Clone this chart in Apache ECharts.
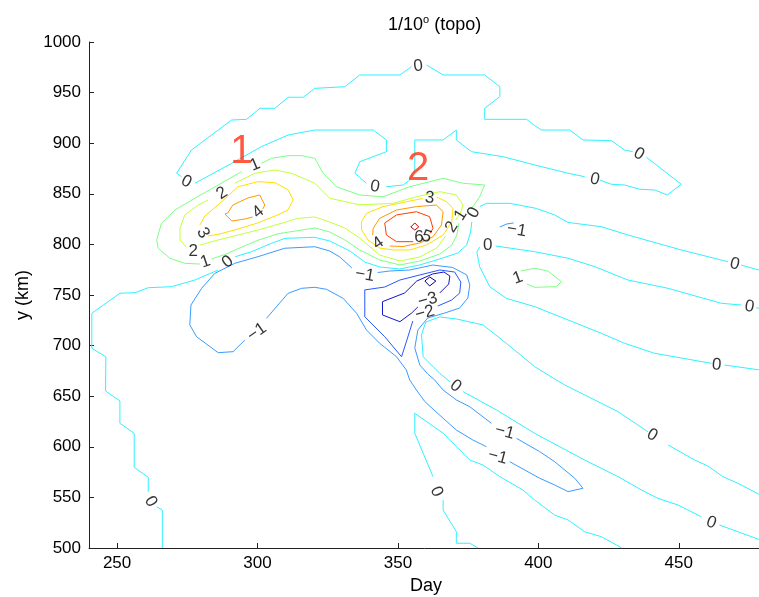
<!DOCTYPE html>
<html>
<head>
<meta charset="utf-8">
<script src="https://cdn.jsdelivr.net/npm/echarts@6/dist/echarts.min.js"></script>
<style>
html,body{margin:0;padding:0;background:#fff;}
#chart{width:759px;height:597px;}
</style>
</head>
<body>
<div id="chart"></div>
<script>
// Contour polylines in (day, km); each level holds several pieces (gaps are where labels sit)
const linesM4 = [
  [[359.6,763.8],[361.3,767.8],[363.5,763.8],[361.3,758.9],[359.6,763.8]]
];
const linesM3 = [
  [[364.9,752.0],[368.1,760.9],[368.5,768.8],[366.4,772.7],[362.4,770.8],[356.7,763.8],[352.4,752.0],[344.5,743.4],[344.5,730.3],[350.7,723.6],[354.9,732.2],[357.1,738.2]]
];
const linesM2 = [
  [[355.3,724.3],[353.2,705.5],[351.3,689.0],[345.3,708.8],[338.2,728.5],[338.2,755.0],[345.3,757.9],[350.7,764.8],[357.8,769.8],[364.9,774.7],[370.2,772.7],[372.4,762.8],[372.0,752.0],[369.2,745.1],[364.2,739.1]]
];
const linesM1 = [
  [[303.2,727.0],[310.9,751.7],[315.7,756.6],[320.4,757.6],[324.6,755.6],[330.5,746.7],[335.3,731.9],[338.8,715.4],[343.5,702.3],[349.5,689.0],[353.0,675.9],[354.2,666.0],[356.6,656.1],[359.6,644.6],[366.1,628.2],[370.8,616.6],[376.7,606.7],[381.5,600.1]],
  [[389.8,585.3],[400.5,568.9],[405.8,562.3],[410.6,555.7],[415.9,559.0],[413.0,568.9],[405.8,585.3],[400.5,595.2],[392.2,608.4]],
  [[383.3,623.2],[375.6,639.6],[370.8,646.3],[366.1,656.1],[363.1,666.0],[360.6,672.0],[357.8,680.8],[356.0,697.6],[357.1,715.4],[360.6,727.3],[366.7,732.2],[372.0,737.2],[374.9,747.0],[375.6,759.9],[374.5,769.8],[369.5,777.2],[362.4,779.6],[354.2,774.7],[347.1,773.7],[342.8,772.2]],
  [[333.6,776.7],[329.3,787.6],[325.7,793.5],[320.4,797.7],[309.7,796.2],[300.2,787.9],[291.9,781.3],[284.8,771.4],[280.1,756.6],[276.3,740.1],[275.9,720.4],[278.3,708.8],[286.0,693.0],[291.3,694.0],[295.5,705.5]],
  [[386.3,817.2],[388.8,820.2],[391.2,821.2]]
];
const lines0 = [
  [[266.1,500],[266.1,537.5],[264.1,540.8]],
  [[261.1,555.6],[261.1,569.9],[256.1,579.7],[256.1,613.3],[251.0,623.2],[251.0,645.3],[245.9,655.1],[246.0,689.0],[241.0,697.3],[241.0,731.9],[251.0,751.7],[256.4,752.3],[261.1,757.2],[269.4,758.2],[277.7,764.8],[286.0,774.7]],
  [[292.0,787.8],[297.9,792.8],[305.0,801.1],[309.8,806.0],[320.4,807.0],[325.7,803.4],[332.9,793.5],[338.2,782.6],[343.5,777.7],[350.7,775.7],[357.8,779.7],[364.9,785.6],[371.3,791.5],[374.5,799.4],[375.9,812.3],[376.3,822.1]],
  [[379.1,837.3],[381.5,840.6],[389.8,840.6],[399.4,835.5],[405.8,829.1],[410.6,821.7],[422.4,817.5],[431.9,809.3],[450.9,794.5],[467.5,782.9]],
  [[472.2,779.6],[480,773.5]],
  [[433.6,891.6],[430.7,893.3],[426.0,902.5],[415.9,903.2],[411.2,913.0],[401.1,913.0],[398.7,917.5],[395.8,923.6],[380.9,923.6],[380.9,934.5],[386.3,946.0],[386.3,955.8],[380.9,967.4],[366.1,967.4],[360.2,977.3]],
  [[354.8,975.6],[350.7,967.4],[336.4,967.4],[331.1,955.8],[320.4,954.2],[316.3,945.4],[310.9,945.4],[306.2,934.5],[300.9,934.5],[296.1,923.6],[290.8,922.9],[276.5,893.3],[271.2,870.3],[273.0,866.9]],
  [[277.7,860.4],[290.8,880.1],[301.4,896.6],[310.9,908.1],[320.4,913.0],[341.2,913.0],[345.9,903.2],[345.9,891.6],[336.4,881.7],[334.7,870.3],[338.8,860.4]],
  [[345.9,857.0],[351.9,858.7],[354.2,863.6],[356.0,873.5],[356.0,903.2],[366.1,903.2],[370.8,913.0],[370.8,903.2],[376.2,891.6],[387.4,886.7],[398.7,878.5],[410.6,870.3],[416.5,866.9]],
  [[421.9,863.6],[426.0,859.4],[430.7,858.7],[436.1,854.5],[441.4,853.8],[445.9,848.8],[450.9,859.4],[438.5,886.1]],
  [[480,736.5],[477.6,737.3]],
  [[472.3,740.1],[465.2,741.8],[446.2,756.6],[431.9,764.8],[420.1,778.0],[410.6,786.3],[398.7,792.8],[389.8,796.4],[384.8,798.4]],
  [[379.1,797.4],[378.1,792.5],[379.1,778.0],[382.7,758.2],[388.6,746.7],[398.7,738.5],[410.6,725.3],[422.4,712.2],[430.7,702.3],[441.4,692.4],[461.6,682.5]],
  [[466.3,680.8],[480,675.5]],
  [[480,507],[464.5,522.7]],
  [[458.0,530.9],[449.7,542.5],[442.6,549.1],[436.7,557.3],[428.4,570.5],[416.5,586.9],[398.7,613.3],[385.1,636.4],[373.2,654.5]],
  [[368.5,664.3],[364.9,672.6],[359.0,689.0],[358.4,710.5],[359.9,723.3],[364.9,728.3],[370.9,726.3],[380.3,720.4],[388.6,702.3],[398.7,679.2],[405.8,667.0],[409.4,661.1],[428.4,634.7],[439.0,614.9]],
  [[446.2,601.8],[455.6,587.0],[460.4,581.0],[465.7,570.5],[471.1,563.9],[480,551]],
  [[378.5,500],[375.6,504.7],[370.8,504.7],[370.8,516.1],[366.1,537.5],[366.1,547.4]],
  [[362.5,570.5],[359.0,593.6],[356.0,613.4],[356.0,633.1],[366.1,613.4],[375.6,586.9],[380.3,582.0],[386.3,570.5],[394.5,557.3],[398.7,547.4],[405.8,532.6],[410.6,527.7],[416.5,516.1],[422.4,511.2],[427.8,503.0],[429.7,500]]
];
const lines1 = [
  [[301.4,880.1],[305.0,885.1],[310.9,887.7],[315.7,887.7],[320.4,885.1],[323.4,870.3],[328.1,857.0],[336.4,848.8],[344.7,847.1],[354.2,857.0],[366.1,865.3],[373.2,860.4],[380.9,858.7],[379.1,847.1],[376.7,837.3],[374.5,834.0]],
  [[371.7,821.2],[371.0,809.3],[369.2,799.4],[364.9,790.5],[357.8,783.6],[350.7,779.7],[343.5,784.6],[336.4,794.5],[331.1,804.4],[325.7,812.3],[320.4,816.2],[307.4,810.6],[300.2,804.1],[293.1,795.8],[288.3,789.9],[283.6,785.6]],
  [[279.5,780.6],[274.1,781.3],[268.8,786.3],[264.6,796.2],[264.1,804.4],[265.8,820.9],[270.6,834.0],[277.7,845.6],[286.0,858.7],[294.3,871.8]],
  [[395.9,760.9],[398.7,757.6],[406.4,758.2],[408.2,763.2],[403.4,773.7],[398.7,776.4],[393.7,773.7]]
];
const lines2 = [
  [[291.9,860.5],[299.1,870.3],[306.2,873.5],[312.1,870.3],[320.4,860.4],[325.7,845.6],[336.4,839.1],[348.3,840.6],[356.6,847.1],[364.9,852.1],[370.8,848.8],[373.2,838.9],[372.4,832.0],[370.6,824.1]],
  [[367.0,808.3],[363.8,796.4],[357.8,787.6],[350.7,783.6],[343.5,789.5],[336.4,806.3],[331.1,816.2],[325.7,822.1],[320.4,827.1],[314.5,825.8],[308.6,820.9],[300.2,814.2],[293.1,809.3],[286.0,804.4],[279.5,799.4]],
  [[274.7,797.1],[272.4,804.4],[272.4,815.9],[274.1,829.1],[278.9,838.9],[282.4,843.9]]
];
const lines3 = [
  [[282.4,808.3],[286.6,810.3],[293.0,815.2],[300.1,821.2],[307.2,829.1],[310.8,834.0],[312.7,843.9],[310.9,853.8],[306.2,861.0],[300.2,862.0],[293.1,857.0],[285.9,838.9],[281.3,828.1],[279.5,819.2]],
  [[363.8,846.8],[367.3,842.2],[369.6,835.7],[369.2,822.4],[366.1,809.3],[360.2,799.4],[354.2,794.5],[348.3,794.5],[343.5,796.4],[339.3,804.4],[337.1,814.2],[337.0,822.4],[338.8,830.7],[344.7,837.3],[353.1,842.2],[358.9,845.4]]
];
const lines4 = [
  [[298.3,827.1],[295.5,825.1],[290.9,823.1],[288.4,830.0],[289.4,831.0],[291.2,838.9],[296.6,845.9],[300.8,848.8],[302.6,838.9],[301.9,835.0]],
  [[347.1,798.4],[351.8,797.9],[357.8,801.4],[362.5,807.6],[365.5,819.2],[366.1,832.3],[363.7,838.9],[356.6,837.3],[349.5,834.0],[343.5,825.8],[341.2,815.9],[341.0,809.3]]
];
const lines5 = [
  [[355.4,802.7],[349.5,802.7],[345.9,809.3],[345.3,821.2],[349.5,829.1],[356.6,832.3],[361.3,827.4],[362.5,815.9],[361.5,811.0]]
];
const lines6 = [
  [[354.6,817.2],[356.0,821.2],[357.4,817.2],[356.0,814.2],[354.6,817.2]]
];

// Inline contour labels: [day, km, text]
const contourLabels = [
  [262.0,545.8,'0'],[289.4,782.6,'0'],[274.7,862.0,'0'],[341.8,857.0,'0'],[357.2,976.3,'0'],
  [435.8,889.3,'0'],[420.1,864.3,'0'],[377.0,831.3,'0'],[382.0,799.4,'0'],[469.9,780.6,'0'],
  [475.2,738.4,'0'],[463.5,680.8,'0'],[440.5,611.7,'0'],[370.5,660.1,'0'],[461.6,525.0,'0'],
  [363.7,555.6,'0'],
  [299.1,878.5,'1'],[281.5,782.9,'1'],[372.4,829.1,'1'],[392.7,766.8,'1'],
  [287.4,850.5,'2'],[277.1,792.8,'2'],[369.2,817.2,'2'],
  [280.6,811.3,'3'],[361.3,845.9,'3'],
  [300.3,832.0,'4'],[343.0,801.1,'4'],
  [357.5,806.6,'6'],[360.2,807.6,'5'],
  [299.8,713.4,'\u22121'],[338.2,769.8,'\u22121'],[385.5,589.9,'\u22121'],[388.0,614.6,'\u22121'],[392.3,814.2,'\u22121'],
  [359.6,732.2,'\u22122'],[360.6,745.1,'\u22123']
];
// Text angle (degrees) of each inline label, same order as contourLabels
const labelTilt = [
  -59,37,-27,-10,6,
  -30,-12,62,0,-14,
  -10,-5,-30,-37,-20,
  -66,
  23,19,58,20,
  34,0,58,
  -60,-5,
  39,35,
  0,-20,
  35,-10,-15,-15,-10,
  15,15
];

// Eddy markers
const eddyMarks = [[294.3,891.0,'1'],[357.2,874.5,'2']];

const xTicks = [250,300,350,400,450];

const levelColor = {
  '-4':'#000096', '-3':'#1414d2', '-2':'#2858ff', '-1':'#3a9cff', '0':'#2ef2ff',
  '1':'#7dff84', '2':'#c4ff3a', '3':'#ffe000', '4':'#ff9a00', '5':'#ff3c00', '6':'#c80000'
};
const levelSets = [
  ['-4',linesM4],['-3',linesM3],['-2',linesM2],['-1',linesM1],['0',lines0],
  ['1',lines1],['2',lines2],['3',lines3],['4',lines4],['5',lines5],['6',lines6]
];

const FONT = '"Liberation Sans", Arial, Helvetica, sans-serif';
const series = [];
levelSets.forEach(([lev, pieces]) => {
  pieces.forEach(piece => {
    series.push({
      type: 'line', data: piece, symbol: 'none', smooth: false, silent: true,
      lineStyle: { color: levelColor[lev], width: 1 }, clip: true, z: 2
    });
  });
});
series.push({
  type: 'scatter', silent: true, symbolSize: 1, z: 5,
  itemStyle: { color: 'rgba(0,0,0,0)' },
  data: contourLabels.map((p, i) => ({
    value: [p[0], p[1]],
    label: { formatter: p[2], rotate: labelTilt[i] }
  })),
  label: { show: true, position: 'inside', color: '#000', fontSize: 17, fontFamily: FONT }
});
series.push({
  type: 'scatter', silent: true, symbolSize: 1, z: 5,
  itemStyle: { color: 'rgba(0,0,0,0)' },
  data: eddyMarks.map(p => ({ value: [p[0], p[1]], label: { formatter: p[2] } })),
  label: { show: true, position: 'inside', color: '#ff3010', fontSize: 40, fontFamily: FONT }
});

const chart = echarts.init(document.getElementById('chart'), null, { renderer: 'canvas' });
chart.setOption({
  animation: false,
  backgroundColor: '#ffffff',
  title: {
    text: '{a|1/10}{s|o}{a| (topo)}',
    left: 383, top: 9,
    textStyle: {
      fontWeight: 'normal',
      rich: {
        a: { fontSize: 18, fontFamily: FONT, fontWeight: 'normal', color: '#000', lineHeight: 22 },
        s: { fontSize: 11, fontFamily: FONT, fontWeight: 'normal', color: '#000', verticalAlign: 'top', lineHeight: 22, padding: [0, 0, 10, 0] }
      }
    }
  },
  grid: { left: 89, right: -4, top: 42, bottom: 49, containLabel: false, outerBoundsMode: 'none' },
  xAxis: {
    type: 'value', min: 240, max: 480,
    name: 'Day', nameLocation: 'middle', nameGap: 27,
    nameTextStyle: { fontSize: 18, fontFamily: FONT, color: '#000' },
    axisLine: { show: true, onZero: false, lineStyle: { color: '#222', width: 1 } },
    axisTick: { show: true, inside: true, length: 5, customValues: xTicks, lineStyle: { color: '#222' } },
    axisLabel: { customValues: xTicks, fontSize: 17, fontFamily: FONT, color: '#000', margin: 7 },
    splitLine: { show: false }
  },
  yAxis: {
    type: 'value', min: 500, max: 1000, interval: 50,
    name: 'y (km)', nameLocation: 'middle', nameGap: 55, nameRotate: 90,
    nameTextStyle: { fontSize: 18, fontFamily: FONT, color: '#000' },
    axisLine: { show: true, onZero: false, lineStyle: { color: '#222', width: 1 } },
    axisTick: { show: true, inside: true, length: 5, lineStyle: { color: '#222' } },
    axisLabel: { fontSize: 17, fontFamily: FONT, color: '#000', margin: 8, formatter: v => String(v) },
    splitLine: { show: false }
  },
  series: series
});
</script>
</body>
</html>
